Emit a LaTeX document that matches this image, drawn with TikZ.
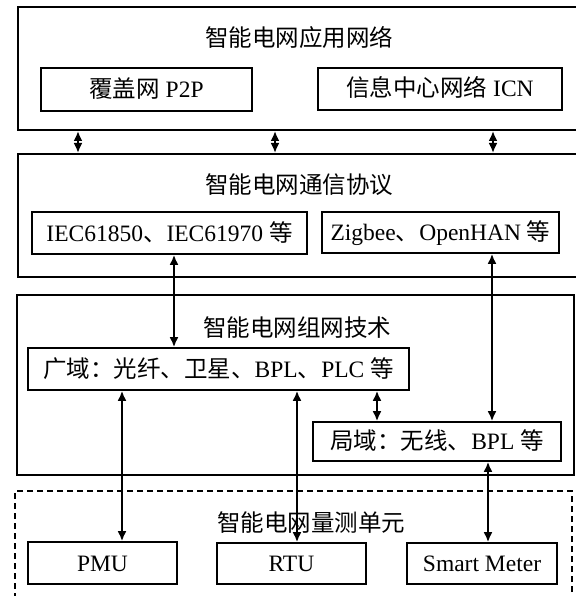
\documentclass[tikz,border=0pt]{standalone}
\usepackage{fontspec}
\setmainfont{Liberation Serif}
\newfontfamily\cjk{Noto Sans CJK SC}
\usetikzlibrary{arrows.meta}
\newcommand{\zh}[1]{{\cjk #1}}
\begin{document}
\begin{tikzpicture}[x=1pt,y=-1pt,
  every node/.style={font=\fontsize{23.5}{28}\selectfont},
  outer/.style={draw,line width=2pt,rectangle,inner sep=0pt},
  ibox/.style={draw,line width=1.6pt,rectangle,inner sep=0pt,text height=16pt,text depth=0pt},
  ttl/.style={inner sep=0pt,text height=16pt,text depth=0pt},
  dbl/.style={line width=2pt,{Latex[length=10pt,width=9pt]}-{Latex[length=10pt,width=9pt]}},
]
\useasboundingbox (0,0) rectangle (575,596);
\fill[white] (0,0) rectangle (575,596);

% outer layers
\node[outer,minimum width=567pt,minimum height=123pt] (box1) at (301.5,68.5) {};
\node[outer,minimum width=567pt,minimum height=123pt] (box2) at (301.5,215.5) {};
\node[outer,minimum width=557pt,minimum height=180pt] (box3) at (295.5,385) {};
\node[outer,line width=1.6pt,dash pattern=on 6pt off 4pt,minimum width=557pt,minimum height=124pt] (box4) at (293.5,553) {};

% titles
\node[ttl] (t1) at (299,39) {\zh{智能电网应用网络}};
\node[ttl] (t2) at (299,185.5) {\zh{智能电网通信协议}};
\node[ttl] (t3) at (297,328) {\zh{智能电网组网技术}};
\node[ttl] (t4) at (311,523) {\zh{智能电网量测单元}};

% inner boxes
\node[ibox,minimum width=211pt,minimum height=43pt] (p2p) at (146.5,89.5) {\zh{覆盖网} P2P};
\node[ibox,minimum width=244pt,minimum height=42pt] (icn) at (440,89) {\zh{信息中心网络} ICN};
\node[ibox,minimum width=275pt,minimum height=42pt] (iec) at (169.5,233) {IEC61850\zh{、}IEC61970 \zh{等}};
\node[ibox,minimum width=237pt,minimum height=41pt] (zig) at (440.5,232.5) {Zigbee\zh{、}OpenHAN \zh{等}};
\node[ibox,minimum width=381pt,minimum height=42pt] (wide) at (218.5,369) {\zh{广域：光纤、卫星、}BPL\zh{、}PLC \zh{等}};
\node[ibox,minimum width=248pt,minimum height=39pt] (local) at (437,441.5) {\zh{局域：无线、}BPL \zh{等}};
\node[ibox,minimum width=149pt,minimum height=42pt] (pmu) at (102.5,563) {PMU};
\node[ibox,minimum width=149pt,minimum height=41pt] (rtu) at (291.5,563.5) {RTU};
\node[ibox,minimum width=150pt,minimum height=41pt] (sm) at (482,563.5) {Smart Meter};

% x positions of connectors
\coordinate (c78) at (78,0);
\coordinate (c275) at (275,0);
\coordinate (c493) at (493,0);
\coordinate (c174) at (174,0);
\coordinate (c492) at (492,0);
\coordinate (c377) at (377,0);
\coordinate (c122) at (122,0);
\coordinate (c297) at (297,0);
\coordinate (c488) at (488,0);

% connectors
\draw[dbl] (box1.south -| c78) -- (box2.north -| c78);
\draw[dbl] (box1.south -| c275) -- (box2.north -| c275);
\draw[dbl] (box1.south -| c493) -- (box2.north -| c493);
\draw[dbl] (iec.south -| c174) -- (wide.north -| c174);
\draw[dbl] (zig.south -| c492) -- (local.north -| c492);
\draw[dbl] (wide.south -| c377) -- (local.north -| c377);
\draw[dbl] (wide.south -| c122) -- (pmu.north -| c122);
\draw[dbl] (wide.south -| c297) -- (rtu.north -| c297);
\draw[dbl] (local.south -| c488) -- (sm.north -| c488);
\end{tikzpicture}
\end{document}
